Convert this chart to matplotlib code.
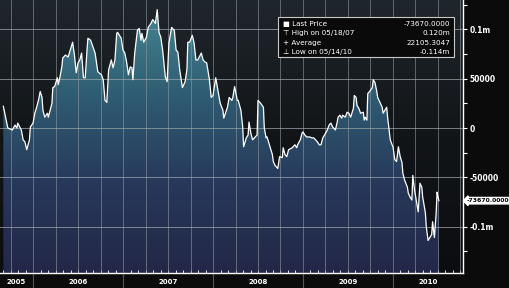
import numpy as np
import matplotlib
matplotlib.use("Agg")
import matplotlib.pyplot as plt
from matplotlib.colors import LinearSegmentedColormap
from matplotlib.ticker import MultipleLocator, FixedLocator, FixedFormatter

# series (decimal year, value in thousands)
years = [2005.67, 2005.72, 2005.77, 2005.80, 2005.82, 2005.83, 2005.87, 2005.89, 2005.91, 2005.93,
         2005.96, 2005.97, 2006.00, 2006.02, 2006.04, 2006.06, 2006.08, 2006.10, 2006.11, 2006.13,
         2006.16, 2006.17, 2006.19, 2006.21, 2006.22, 2006.24, 2006.27, 2006.28, 2006.30, 2006.32,
         2006.33, 2006.36, 2006.39, 2006.42, 2006.44, 2006.46, 2006.48, 2006.50, 2006.52, 2006.54,
         2006.56, 2006.58, 2006.60, 2006.61, 2006.64, 2006.67, 2006.69, 2006.72, 2006.76, 2006.78,
         2006.80, 2006.82, 2006.84, 2006.87, 2006.89, 2006.91, 2006.93, 2006.94, 2006.98, 2007.00,
         2007.02, 2007.04, 2007.06, 2007.08, 2007.10, 2007.11, 2007.13, 2007.16, 2007.18, 2007.20,
         2007.21, 2007.23, 2007.26, 2007.28, 2007.31, 2007.33, 2007.36, 2007.38, 2007.40, 2007.42,
         2007.44, 2007.47, 2007.49, 2007.51, 2007.54, 2007.57, 2007.59, 2007.61, 2007.63, 2007.66,
         2007.69, 2007.71, 2007.72, 2007.74, 2007.77, 2007.79, 2007.81, 2007.83, 2007.87, 2007.89,
         2007.91, 2007.93, 2007.96, 2007.98, 2008.00, 2008.03, 2008.06, 2008.08, 2008.11, 2008.12,
         2008.16, 2008.18, 2008.21, 2008.22, 2008.24, 2008.27, 2008.28, 2008.31, 2008.33, 2008.34,
         2008.37, 2008.39, 2008.40, 2008.42, 2008.44, 2008.47, 2008.49, 2008.50, 2008.53, 2008.56,
         2008.57, 2008.59, 2008.60, 2008.62, 2008.66, 2008.67, 2008.69, 2008.71, 2008.72, 2008.74,
         2008.77, 2008.78, 2008.80, 2008.82, 2008.84, 2008.88, 2008.89, 2008.91, 2008.93, 2008.94,
         2008.97, 2008.99, 2009.00, 2009.02, 2009.04, 2009.07, 2009.10, 2009.12, 2009.16, 2009.18,
         2009.20, 2009.22, 2009.24, 2009.27, 2009.29, 2009.31, 2009.33, 2009.36, 2009.38, 2009.39,
         2009.41, 2009.43, 2009.44, 2009.47, 2009.49, 2009.51, 2009.53, 2009.56, 2009.57, 2009.59,
         2009.60, 2009.62, 2009.64, 2009.67, 2009.68, 2009.69, 2009.71, 2009.72, 2009.74, 2009.77,
         2009.78, 2009.80, 2009.82, 2009.83, 2009.86, 2009.88, 2009.89, 2009.91, 2009.93, 2009.94,
         2009.97, 2009.99, 2010.00, 2010.02, 2010.04, 2010.06, 2010.08, 2010.10, 2010.11, 2010.13,
         2010.16, 2010.17, 2010.19, 2010.21, 2010.22, 2010.24, 2010.27, 2010.28, 2010.30, 2010.32,
         2010.33, 2010.36, 2010.37, 2010.39, 2010.41, 2010.43, 2010.44, 2010.46, 2010.48, 2010.49,
         2010.50, 2010.51]
values_k = [22, 0, -2, 3, 0, 5, -2, -12, -14, -22,
            -12, 1, 5, 15, 21, 28, 37, 31, 18, 11,
            15, 11, 18, 25, 41, 42, 51, 44, 52, 62,
            71, 74, 72, 81, 87, 74, 56, 66, 69, 76,
            51, 51, 79, 91, 89, 81, 76, 57, 54, 49,
            28, 26, 59, 69, 61, 69, 96, 97, 91, 79,
            76, 67, 54, 62, 61, 49, 76, 99, 101, 89,
            96, 87, 92, 102, 106, 110, 106, 120, 97, 92,
            79, 52, 47, 86, 102, 99, 79, 77, 59, 41,
            47, 59, 87, 87, 94, 86, 69, 69, 76, 69,
            67, 66, 49, 31, 33, 51, 35, 25, 18, 10,
            21, 31, 28, 31, 42, 28, 28, 18, 1, -19,
            -10, -7, 6, -5, -12, -9, -7, 28, 25, 21,
            0, -10, -9, -15, -27, -34, -38, -40, -41, -29,
            -30, -20, -27, -29, -22, -20, -19, -17, -20, -17,
            -12, -5, -4, -7, -9, -9, -10, -10, -14, -17,
            -17, -10, -7, -2, 3, 5, 1, -2, 6, 11,
            13, 10, 13, 11, 16, 15, 11, 20, 33, 31,
            23, 20, 15, 16, 8, 11, 8, 35, 37, 41,
            49, 46, 37, 31, 25, 21, 15, 18, 21, 11,
            -12, -17, -19, -32, -34, -19, -29, -35, -46, -53,
            -60, -66, -70, -73, -48, -63, -80, -85, -56, -60,
            -70, -86, -100, -114, -111, -108, -95, -111, -86, -65,
            -70, -73.67]

ytick_vals = [-100000, -50000, 0, 50000, 100000]
ytick_labels = ["-0.1m", "-50000", "0", "50000", "0.1m"]
year_labels = ["2005", "2006", "2007", "2008", "2009", "2010"]
year_label_pos = [2005.81, 2006.5, 2007.5, 2008.5, 2009.5, 2010.39]

legend_left = ["\u25a0 Last Price", "\u22a4 High on 05/18/07", "+ Average", "\u22a5 Low on 05/14/10"]
legend_right = ["-73670.0000", "0.120m", "22105.3047", "-0.114m"]
last_label = "-73670.0000"

vals = np.array(values_k) * 1000.0
x0, x1 = 2005.633, 2010.778
y0, y1 = -147000, 129800

fig = plt.figure(figsize=(5.1, 2.88), dpi=100, facecolor="#0b0b0b")
ax = fig.add_axes([0.0, 15 / 288, 463 / 510, 273 / 288])
ax.set_xlim(x0, x1)
ax.set_ylim(y0, y1)

# background gradient
bg = LinearSegmentedColormap.from_list("bg", ["#0c0d10", "#121518", "#1f262c"])
grad = np.linspace(0, 1, 256).reshape(-1, 1)
ax.imshow(grad, extent=[x0, x1, y0, y1], origin="lower", aspect="auto", cmap=bg, zorder=0)

# gradient area fill under the line
fillcm = LinearSegmentedColormap.from_list("fill", ["#232748", "#27385a", "#2f5c72", "#458592"])
poly = ax.fill_between(years, vals, y0, facecolor="none", edgecolor="none")
im = ax.imshow(grad, extent=[x0, x1, y0, 122000], origin="lower", aspect="auto", cmap=fillcm, zorder=1)
im.set_clip_path(poly.get_paths()[0], transform=ax.transData)

# grid
for q in np.arange(2005.75, 2010.8, 0.25):
    ax.axvline(q, color="#8d979e", lw=0.6, alpha=0.7, zorder=2)
for v in ytick_vals:
    ax.axhline(v, color="#9aa3a8", lw=0.7, alpha=0.75, zorder=2)

ax.plot(years, vals, color="white", lw=0.9, zorder=3)

# axes styling
for s in ["left", "top"]:
    ax.spines[s].set_visible(False)
for s in ["right", "bottom"]:
    ax.spines[s].set_color("white")
    ax.spines[s].set_linewidth(1.0)
ax.set_facecolor("#0b0b0b")

ax.yaxis.tick_right()
ax.yaxis.set_major_locator(FixedLocator(ytick_vals))
ax.yaxis.set_major_formatter(FixedFormatter(ytick_labels))
ax.yaxis.set_minor_locator(MultipleLocator(25000))
ax.tick_params(axis="y", which="both", colors="white", length=3, width=0.8, direction="out",
               labelsize=5.5, pad=2)
for t in ax.get_yticklabels():
    t.set_fontweight("bold")

ax.xaxis.set_major_locator(FixedLocator([2006, 2007, 2008, 2009, 2010]))
ax.xaxis.set_minor_locator(MultipleLocator(1 / 12))
ax.tick_params(axis="x", which="major", length=14, color="#555555", width=0.8, direction="out",
               labelbottom=False)
ax.tick_params(axis="x", which="minor", length=2, color="white", width=0.6, direction="in")

for lab, pos in zip(year_labels, year_label_pos):
    ax.text(pos, -0.033, lab, transform=ax.get_xaxis_transform(), color="white", fontsize=5,
            fontweight="bold", ha="center", va="center")

# last price tag
ax.text(1.008, (vals[-1] - y0) / (y1 - y0), last_label, transform=ax.transAxes, color="black",
        fontsize=4.4, fontweight="bold", ha="left", va="center", clip_on=False,
        bbox=dict(boxstyle="larrow,pad=0.12", fc="white", ec="white"))

# legend box
fig.patches.append(plt.Rectangle((278 / 510, 1 - 57 / 288), 176 / 510, 40 / 288,
                                 transform=fig.transFigure, facecolor="#0a0a0a",
                                 edgecolor="#c8c8c8", lw=0.8, zorder=5))
for i, (l, r) in enumerate(zip(legend_left, legend_right)):
    yy = 1 - (24 + i * 9.3) / 288
    fig.text(283 / 510, yy, l, color="white", fontsize=5.2, ha="left", va="center", zorder=6)
    fig.text(450 / 510, yy, r, color="white", fontsize=5.2, ha="right", va="center", zorder=6)

fig.savefig("out.png", dpi=100, facecolor=fig.get_facecolor())
